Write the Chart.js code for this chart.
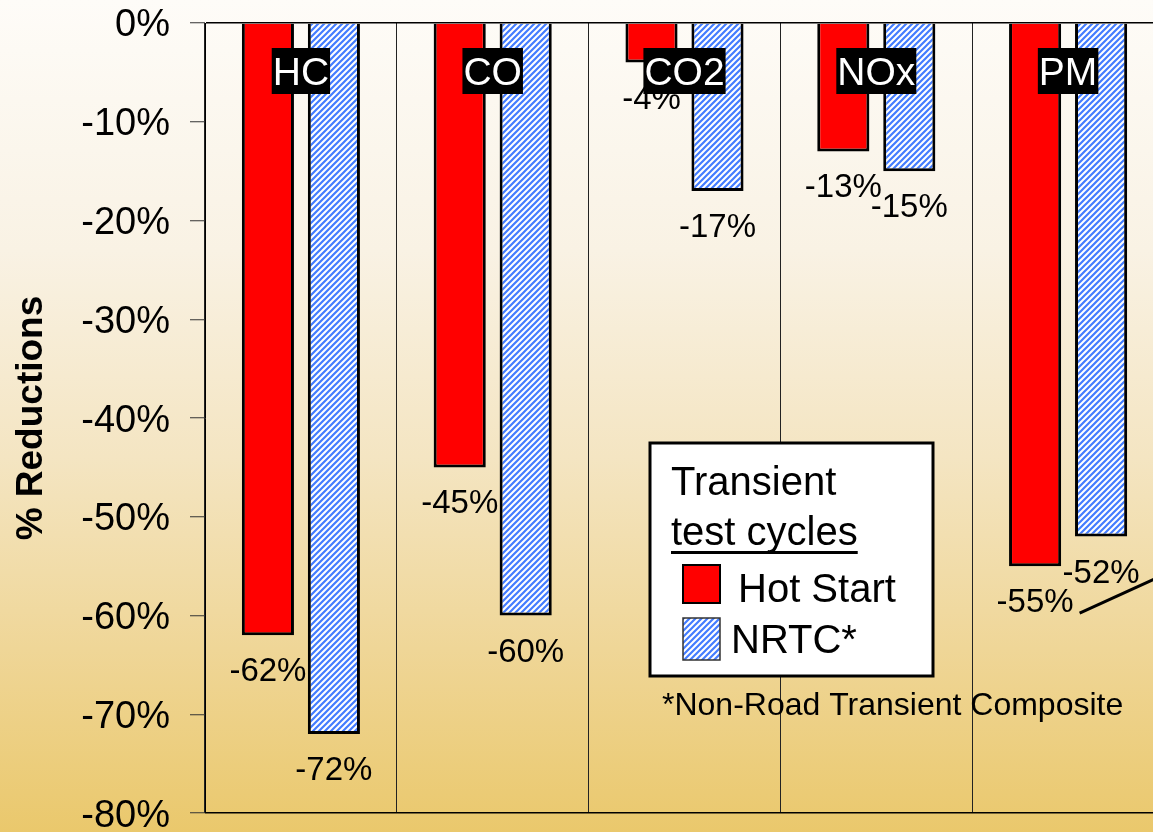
<!DOCTYPE html>
<html>
<head>
<meta charset="utf-8">
<script src="https://cdn.jsdelivr.net/npm/chart.js@4"></script>
<style>
  html, body { margin: 0; padding: 0; width: 1153px; height: 832px; overflow: hidden; }
  body { background: linear-gradient(to bottom, #fefcf8 0%, #f9f2e4 30%, #f4e5c2 55%, #efd697 78%, #eac86c 100%); }
  canvas { display: block; }
</style>
</head>
<body>
<canvas id="reductionChart" width="1180" height="835"></canvas>
<script>
var categories = ['HC', 'CO', 'CO2', 'NOx', 'PM'];
var hotStart = [-62, -45, -4, -13, -55];
var nrtc = [-72, -60, -17, -15, -52];
var seriesNames = ['Hot Start', 'NRTC*'];
var legendTitle = ['Transient', 'test cycles'];
var footnote = '*Non-Road Transient Composite';
var yMin = -80, yMax = 0, yStep = 10;

var FONT = '"Liberation Sans", Arial, sans-serif';
Chart.defaults.font.family = FONT;
Chart.defaults.color = '#000';

// blue diagonal hatch like the old powerpoint fill
function makeHatch() {
  var c = document.createElement('canvas');
  c.width = 6; c.height = 6;
  var g = c.getContext('2d');
  g.fillStyle = '#ffffff';
  g.fillRect(0, 0, 6, 6);
  g.strokeStyle = '#437cff';
  g.lineWidth = 2.2;
  g.beginPath();
  g.moveTo(-1, 7); g.lineTo(7, -1);
  g.moveTo(-1, 1); g.lineTo(1, -1);
  g.moveTo(5, 7); g.lineTo(7, 5);
  g.stroke();
  return g.createPattern(c, 'repeat');
}
var hatch = makeHatch();
var seriesFills = ['#ff0000', hatch];

var annotate = {
  id: 'annotate',
  afterDatasetsDraw: function (chart) {
    var ctx = chart.ctx;
    ctx.save();

    // value labels under each bar
    ctx.font = '33px ' + FONT;
    ctx.fillStyle = '#000';
    ctx.textAlign = 'center';
    ctx.textBaseline = 'alphabetic';
    var pmLabel = null;
    chart.data.datasets.forEach(function (ds, i) {
      chart.getDatasetMeta(i).data.forEach(function (bar, j) {
        var txt = ds.data[j] + '%';
        ctx.fillText(txt, bar.x, bar.y + 46);
        if (i === 0 && j === categories.length - 1) {
          pmLabel = { right: bar.x + ctx.measureText(txt).width / 2, base: bar.y + 46 };
        }
      });
    });

    // leader line running off to the right from the PM label
    if (pmLabel) {
      ctx.strokeStyle = '#000';
      ctx.lineWidth = 3;
      ctx.beginPath();
      ctx.moveTo(pmLabel.right + 6, pmLabel.base + 1);
      ctx.lineTo(pmLabel.right + 96, pmLabel.base - 40);
      ctx.stroke();
    }

    // category names in black boxes
    var xs = chart.scales.x;
    ctx.font = '39px ' + FONT;
    categories.forEach(function (c, j) {
      var cx = xs.getPixelForValue(j);
      var w = ctx.measureText(c).width + 2;
      ctx.fillStyle = '#000';
      ctx.fillRect(cx - w / 2, 48, w, 46);
      ctx.fillStyle = '#fff';
      ctx.fillText(c, cx, 85);
    });

    // legend box
    ctx.fillStyle = '#fff';
    ctx.fillRect(650, 443, 283, 233);
    ctx.strokeStyle = '#000';
    ctx.lineWidth = 3;
    ctx.strokeRect(650, 443, 283, 233);

    ctx.font = '40px ' + FONT;
    ctx.textAlign = 'left';
    ctx.fillStyle = '#000';
    ctx.fillText(legendTitle[0], 671, 495);
    ctx.fillText(legendTitle[1], 671, 545);
    ctx.fillRect(671, 551, ctx.measureText(legendTitle[1]).width, 3);

    ctx.fillStyle = seriesFills[0];
    ctx.fillRect(683, 565, 37, 38);
    ctx.lineWidth = 2;
    ctx.strokeStyle = '#000';
    ctx.strokeRect(683, 565, 37, 38);
    ctx.fillStyle = '#000';
    ctx.fillText(seriesNames[0], 738, 602);

    ctx.fillStyle = seriesFills[1];
    ctx.fillRect(683, 618, 37, 42);
    ctx.lineWidth = 1.5;
    ctx.strokeStyle = '#333';
    ctx.strokeRect(683, 618, 37, 42);
    ctx.fillStyle = '#000';
    ctx.fillText(seriesNames[1], 731, 653);

    // footnote
    ctx.font = '32px ' + FONT;
    ctx.fillText(footnote, 662, 715);

    ctx.restore();
  }
};

new Chart('reductionChart', {
  type: 'bar',
  data: {
    labels: categories,
    datasets: [
      { label: seriesNames[0], data: hotStart, backgroundColor: seriesFills[0], borderColor: '#000', borderWidth: 3 },
      { label: seriesNames[1], data: nrtc, backgroundColor: seriesFills[1], borderColor: '#000', borderWidth: 3 }
    ]
  },
  options: {
    responsive: false,
    animation: false,
    categoryPercentage: 0.688,
    barPercentage: 0.79,
    layout: { padding: { top: 23, bottom: 0, left: 0, right: 16 } },
    plugins: {
      legend: { display: false },
      tooltip: { enabled: false }
    },
    scales: {
      x: {
        grid: { color: '#222', lineWidth: 1, drawTicks: false, offset: true },
        border: { display: false },
        ticks: { display: false }
      },
      y: {
        min: yMin,
        max: yMax,
        ticks: {
          stepSize: yStep,
          color: '#000',
          padding: 20,
          labelOffset: 3,
          font: { size: 38, lineHeight: 0.1 },
          callback: function (v) { return v + '%'; }
        },
        grid: {
          color: function (c) {
            return (c.tick && (c.tick.value === yMax || c.tick.value === yMin)) ? '#000' : 'rgba(0,0,0,0)';
          },
          lineWidth: 1.5,
          tickColor: '#333',
          tickWidth: 1,
          tickLength: 15
        },
        border: { color: '#000', width: 1 },
        title: {
          display: true,
          text: '% Reductions',
          color: '#000',
          font: { size: 37, weight: 'bold' },
          padding: { top: 10, bottom: 0 }
        },
        afterFit: function (scale) { scale.width = 205; }
      }
    }
  },
  plugins: [annotate]
});
</script>
</body>
</html>
